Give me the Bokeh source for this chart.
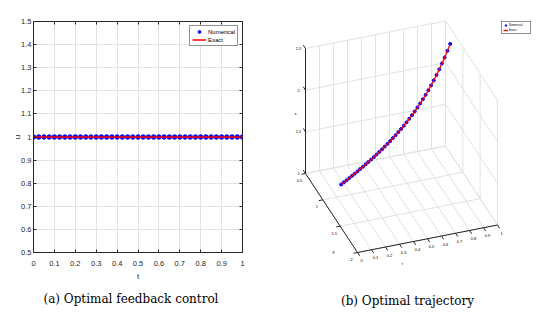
from bokeh.plotting import figure
from bokeh.models import (Range1d, FixedTicker, LinearAxis, Legend, LegendItem, Title,
                          CustomJSTickFormatter)
from bokeh.layouts import row
from bokeh.embed import file_html
from bokeh.resources import INLINE
from bokeh.core.properties import value

# ---------------- data : panel (a) optimal feedback control ----------------
t_a = [0.0, 0.025, 0.05, 0.075, 0.1, 0.125, 0.15, 0.175, 0.2, 0.225, 0.25, 0.275,
       0.3, 0.325, 0.35, 0.375, 0.4, 0.425, 0.45, 0.475, 0.5, 0.525, 0.55, 0.575,
       0.6, 0.625, 0.65, 0.675, 0.7, 0.725, 0.75, 0.775, 0.8, 0.825, 0.85, 0.875,
       0.9, 0.925, 0.95, 0.975, 1.0]
u_numerical = [1.0, 1.0, 1.0, 1.0, 1.0, 1.0, 1.0, 1.0, 1.0, 1.0, 1.0, 1.0, 1.0, 1.0,
               1.0, 1.0, 1.0, 1.0, 1.0, 1.0, 1.0, 1.0, 1.0, 1.0, 1.0, 1.0, 1.0, 1.0,
               1.0, 1.0, 1.0, 1.0, 1.0, 1.0, 1.0, 1.0, 1.0, 1.0, 1.0, 1.0, 1.0]
u_exact = [1.0, 1.0, 1.0, 1.0, 1.0, 1.0, 1.0, 1.0, 1.0, 1.0, 1.0, 1.0, 1.0, 1.0,
           1.0, 1.0, 1.0, 1.0, 1.0, 1.0, 1.0, 1.0, 1.0, 1.0, 1.0, 1.0, 1.0, 1.0,
           1.0, 1.0, 1.0, 1.0, 1.0, 1.0, 1.0, 1.0, 1.0, 1.0, 1.0, 1.0, 1.0]
x_ticks_a = [0, 0.1, 0.2, 0.3, 0.4, 0.5, 0.6, 0.7, 0.8, 0.9, 1]
x_labels_a = ["0", "0.1", "0.2", "0.3", "0.4", "0.5", "0.6", "0.7", "0.8", "0.9", "1"]
y_ticks_a = [0.5, 0.6, 0.7, 0.8, 0.9, 1, 1.1, 1.2, 1.3, 1.4, 1.5]
y_labels_a = ["0.5", "0.6", "0.7", "0.8", "0.9", "1", "1.1", "1.2", "1.3", "1.4", "1.5"]

# ---------------- data : panel (b) optimal trajectory (3-D) ----------------
t_b = t_a
y_b = [1.528, 1.505, 1.483, 1.461, 1.438, 1.416, 1.394, 1.371, 1.349, 1.327, 1.304,
       1.282, 1.260, 1.237, 1.215, 1.193, 1.170, 1.148, 1.126, 1.103, 1.081, 1.059,
       1.036, 1.014, 0.992, 0.969, 0.947, 0.925, 0.902, 0.880, 0.858, 0.835, 0.813,
       0.791, 0.768, 0.746, 0.724, 0.701, 0.679, 0.657, 0.635]
x_b = [1.518, 1.521, 1.524, 1.528, 1.532, 1.536, 1.541, 1.546, 1.552, 1.558, 1.564,
       1.571, 1.578, 1.586, 1.595, 1.604, 1.614, 1.625, 1.636, 1.649, 1.662, 1.677,
       1.692, 1.709, 1.727, 1.747, 1.768, 1.790, 1.815, 1.841, 1.870, 1.900, 1.933,
       1.969, 2.007, 2.049, 2.094, 2.142, 2.193, 2.249, 2.310]
t_ticks_b = [0, 0.1, 0.2, 0.3, 0.4, 0.5, 0.6, 0.7, 0.8, 0.9, 1]
t_labels_b = ["0", "0.1", "0.2", "0.3", "0.4", "0.5", "0.6", "0.7", "0.8", "0.9", "1"]
y_ticks_b = [0.5, 1.0, 1.5, 2.0]
y_labels_b = ["0.5", "1", "1.5", "2"]
z_ticks_b = [1.0, 1.5, 2.0, 2.5]
z_labels_b = ["1", "1.5", "2", "2.5"]

caption_a = "(a) Optimal feedback control"
caption_b = "(b) Optimal trajectory"

DARK = "#262626"
GRID = "#e2e2e2"
TICKFONT = "Liberation Sans"
CAPFONT = "DejaVu Serif"

# shared frame borders (keeps both panels' frames identical in the row)
TOP, BOTTOM = 21, 66


def fmt(tks, lbs):
    return CustomJSTickFormatter(
        args=dict(tk_vals=tks, tk_labs=lbs),
        code="const i = tk_vals.findIndex(v => Math.abs(v - tick) < 1e-9); return i >= 0 ? tk_labs[i] : '';")


# ======================= panel (a) =======================
p1 = figure(width=270, height=318, x_range=Range1d(0, 1), y_range=Range1d(0.5, 1.5),
            output_backend="svg", toolbar_location=None,
            min_border_left=33, min_border_right=28, min_border_top=TOP, min_border_bottom=BOTTOM)
p1.outline_line_color = DARK
p1.background_fill_color = "white"
p1.border_fill_color = "white"

p1.xaxis.ticker = FixedTicker(ticks=x_ticks_a)
p1.yaxis.ticker = FixedTicker(ticks=y_ticks_a)
p1.xaxis.formatter = fmt(x_ticks_a, x_labels_a)
p1.yaxis.formatter = fmt(y_ticks_a, y_labels_a)
p1.xaxis.axis_label = "t"
p1.yaxis.axis_label = "u"
for ax in (p1.xaxis[0], p1.yaxis[0]):
    ax.axis_line_color = None
    ax.major_tick_in = 3
    ax.major_tick_out = 0
    ax.minor_tick_in = 0
    ax.minor_tick_out = 0
    ax.major_tick_line_color = DARK
    ax.major_label_text_font = TICKFONT
    ax.major_label_text_font_size = "7.5px"
    ax.major_label_text_color = DARK
    ax.axis_label_text_font = TICKFONT
    ax.axis_label_text_font_size = "8px"
    ax.axis_label_text_font_style = "normal"
    ax.axis_label_text_color = DARK
p1.xaxis.major_label_standoff = 8
p1.xaxis.axis_label_standoff = 3
p1.yaxis.major_label_standoff = 2
p1.yaxis.axis_label_standoff = -4

for loc, tk in (("right", y_ticks_a), ("above", x_ticks_a)):
    ax = LinearAxis(ticker=FixedTicker(ticks=tk), formatter=CustomJSTickFormatter(code="return '';"),
                    axis_line_color=None, major_tick_in=3, major_tick_out=0,
                    minor_tick_in=0, minor_tick_out=0, major_tick_line_color=DARK,
                    major_label_standoff=0, major_label_text_font_size="1px")
    p1.add_layout(ax, loc)

p1.xgrid.grid_line_color = GRID
p1.ygrid.grid_line_color = GRID

r_num = p1.scatter(t_a, u_numerical, marker="circle", size=4.5, fill_color="#0000ff",
                   line_color="#0000ff")
r_ex = p1.line(t_a, u_exact, line_color="#ff0000", line_width=1.5)

leg1 = Legend(items=[LegendItem(label="Numerical", renderers=[r_num]),
                     LegendItem(label="Exact", renderers=[r_ex])],
              location=(156, 206), border_line_color=DARK, border_line_width=1,
              label_text_font=TICKFONT, label_text_font_size="6px", label_text_color="black",
              glyph_width=14, glyph_height=7, label_height=7, label_standoff=2,
              padding=2, spacing=1, margin=0, background_fill_alpha=1)
p1.add_layout(leg1)

p1.add_layout(Title(text=caption_a, align="left", text_font=CAPFONT, text_font_size="12px",
                    text_font_style="normal", text_color="black", standoff=12, offset=10), "below")

# ======================= panel (b) : 3-D projection =======================
# data units of this panel's ranges equal screen pixels; the frame spans y 21..252
p2 = figure(width=269, height=318, x_range=Range1d(270, 539), y_range=Range1d(318 - BOTTOM, TOP),
            x_axis_type=None, y_axis_type=None, output_backend="svg",
            toolbar_location=None, min_border_left=0, min_border_right=0,
            min_border_top=TOP, min_border_bottom=BOTTOM)
p2.outline_line_color = None
p2.background_fill_color = "white"
p2.border_fill_color = "white"

T0, T1 = t_ticks_b[0], t_ticks_b[-1]
Y0, Y1 = y_ticks_b[0], y_ticks_b[-1]
Z0, Z1 = z_ticks_b[0], z_ticks_b[-1]
OX, OY = 305.0, 173.0          # screen position of the back-left-bottom corner
ETX, ETY = 140.0, -27.5        # screen vector of the t axis
ESX, ESY = 52.0, 79.0          # screen vector of the depth axis
EZY = -125.0                   # screen vector of the height axis


def P(t, y, z):
    tn = (t - T0) / (T1 - T0)
    sn = (y - Y0) / (Y1 - Y0)
    zn = (z - Z0) / (Z1 - Z0)
    return OX + ETX * tn + ESX * sn, OY + ETY * tn + ESY * sn + EZY * zn


gx, gy = [], []


def seg(a, b):
    gx.append([a[0], b[0]])
    gy.append([a[1], b[1]])


for tt in t_ticks_b:
    seg(P(tt, Y0, Z0), P(tt, Y0, Z1))     # back wall verticals
    seg(P(tt, Y0, Z0), P(tt, Y1, Z0))     # floor
for zz in z_ticks_b:
    seg(P(T0, Y0, zz), P(T1, Y0, zz))     # back wall horizontals
    seg(P(T1, Y0, zz), P(T1, Y1, zz))     # right wall
for yy in y_ticks_b:
    seg(P(T1, yy, Z0), P(T1, yy, Z1))     # right wall verticals
    seg(P(T0, yy, Z0), P(T1, yy, Z0))     # floor
p2.multi_line(gx, gy, line_color=GRID, line_width=1, level="overlay")

# axes
ax_x, ax_y = [], []
for a, b in ((P(T0, Y0, Z0), P(T0, Y0, Z1)), (P(T0, Y0, Z0), P(T0, Y1, Z0)),
             (P(T0, Y1, Z0), P(T1, Y1, Z0))):
    ax_x.append([a[0], b[0]])
    ax_y.append([a[1], b[1]])
# tick marks
tk_len = 4.0
es_len = (ESX ** 2 + ESY ** 2) ** 0.5
et_len = (ETX ** 2 + ETY ** 2) ** 0.5
for tt in t_ticks_b:
    a = P(tt, Y1, Z0)
    ax_x.append([a[0], a[0] + ESX / es_len * tk_len])
    ax_y.append([a[1], a[1] + ESY / es_len * tk_len])
for yy in y_ticks_b:
    a = P(T0, yy, Z0)
    ax_x.append([a[0], a[0] - ETX / et_len * tk_len])
    ax_y.append([a[1], a[1] - ETY / et_len * tk_len])
for zz in z_ticks_b:
    a = P(T0, Y0, zz)
    ax_x.append([a[0], a[0] - ESX / es_len * tk_len])
    ax_y.append([a[1], a[1] - ESY / es_len * tk_len])
p2.multi_line(ax_x, ax_y, line_color=DARK, line_width=1, level="overlay")

# tick labels
lx, ly, lt = [], [], []
for tt, lab in zip(t_ticks_b, t_labels_b):
    a = P(tt, Y1, Z0)
    lx.append(a[0] + 4); ly.append(a[1] + 8); lt.append(lab)
for yy, lab in zip(y_ticks_b, y_labels_b):
    a = P(T0, yy, Z0)
    lx.append(a[0] - 6); ly.append(a[1] + 7); lt.append(lab)
for zz, lab in zip(z_ticks_b, z_labels_b):
    a = P(T0, Y0, zz)
    lx.append(a[0] - 7); ly.append(a[1]); lt.append(lab)
# axis titles
a = P(T0 + 0.32 * (T1 - T0), Y1, Z0)
lx.append(a[0]); ly.append(a[1] + 20); lt.append("t")
a = P(T0, Y0 + 0.75 * (Y1 - Y0), Z0)
lx.append(a[0] - 11); ly.append(a[1] + 19); lt.append("y")
a = P(T0, Y0, Z0 + 0.48 * (Z1 - Z0))
lx.append(a[0] - 10); ly.append(a[1]); lt.append("x")
p2.text(lx, ly, text=lt, text_font=value(TICKFONT), text_font_size=value("4px"),
        text_color="black", text_align="center", text_baseline="middle", level="overlay")

# trajectory
px, py = [], []
for tt, yy, zz in zip(t_b, y_b, x_b):
    q = P(tt, yy, zz)
    px.append(q[0]); py.append(q[1])
r2_num = p2.scatter(px, py, marker="circle", size=3, fill_color="#0000ff", line_color="#0000ff",
                    level="overlay")
r2_ex = p2.line(px, py, line_color="#ff0000", line_width=1.3, level="overlay")

leg2 = Legend(items=[LegendItem(label="Numerical", renderers=[r2_num]),
                     LegendItem(label="Exact", renderers=[r2_ex])],
              location=(231, 218), border_line_color=DARK, border_line_width=1,
              label_text_font=TICKFONT, label_text_font_size="3px", label_text_color="black",
              glyph_width=5, glyph_height=4, label_height=4, label_standoff=1,
              padding=1, spacing=1, margin=0, background_fill_alpha=1)
p2.add_layout(leg2)

p2.text([407], [300], text=[caption_b], text_font=value(CAPFONT), text_font_size=value("12px"),
        text_color="black", text_align="center", text_baseline="middle", level="overlay")

layout = row(p1, p2)
open("out.html", "w").write(file_html(layout, INLINE))
